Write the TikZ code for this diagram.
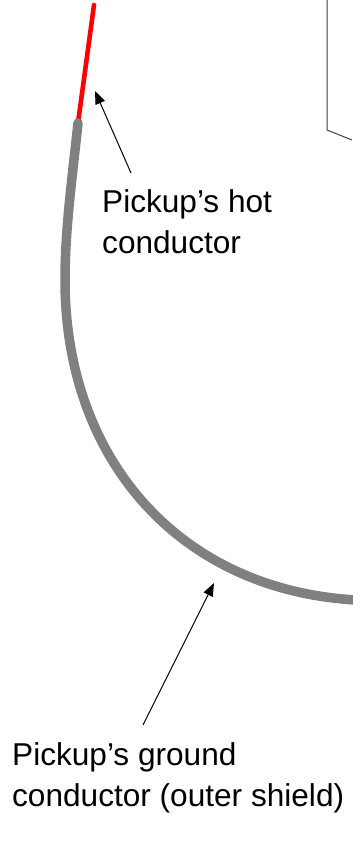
\documentclass[tikz,border=0pt]{standalone}
\usepackage{fontspec}
\setmainfont{Liberation Sans}
\usetikzlibrary{arrows.meta, positioning}
\definecolor{hotred}{RGB}{255,0,0}
\definecolor{shieldgray}{RGB}{128,128,128}
\definecolor{framegray}{RGB}{60,60,60}

\begin{document}
\begin{tikzpicture}[
    x=1bp, y=-1bp,
    every node/.style={font=\fontsize{31.6bp}{41bp}\selectfont},
    lbl/.style={align=left, inner sep=0pt, anchor=base west},
    hotwire/.style={line width=4.6bp, hotred, line cap=round},
    shieldwire/.style={line width=9.5bp, shieldgray, line cap=round},
    pointer/.style={-{Triangle[length=13bp, width=10bp]}, line width=1bp, black}
]
\useasboundingbox (0,0) rectangle (352,846);

%% Box edge at the top right
\draw[framegray, line width=1bp] (327,0) -- (327,130) -- (352,140);

%% Hot conductor
\coordinate (hottop) at (94,5);
\coordinate (hotend) at (78,123);
\draw[hotwire] (hottop) -- (hotend);

%% Outer shield
\coordinate (shieldmid) at (65,280);
\coordinate (shieldend) at (356,600);
\draw[shieldwire] (hotend) .. controls (72,180) and (65,230) .. (shieldmid)
    .. controls (65,460) and (180,590) .. (shieldend);

%% Labels (base = last line)
\node[lbl] (hotlbl) at (102,253) {Pickup’s hot\\conductor};
\node[lbl] (gndlbl) at (12,806) {Pickup’s ground\\conductor (outer shield)};

%% Arrows
\coordinate (hottip) at (95,91);
\coordinate (hottail) at (131,173);
\coordinate (gndtip) at (214,583);
\coordinate (gndtail) at (143,725);
\draw[pointer] (hottail) -- (hottip);
\draw[pointer] (gndtail) -- (gndtip);
\end{tikzpicture}
\end{document}
